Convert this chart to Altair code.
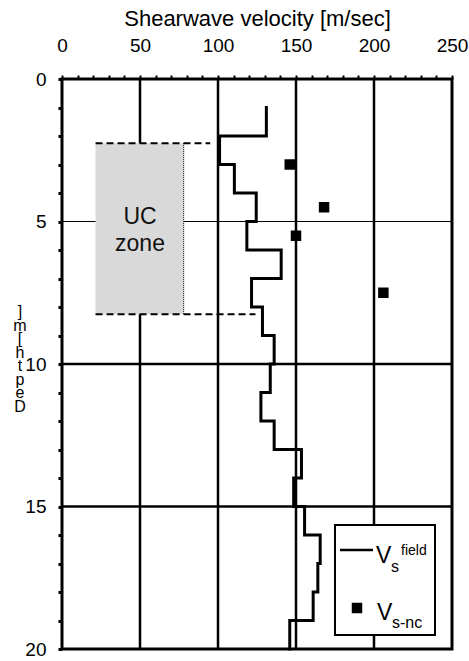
import altair as alt
import pandas as pd

# ---- data ----
layer_top = [1, 2, 3, 4, 5, 6, 7, 8, 9, 10, 11, 12, 13, 14, 15, 16, 17, 18, 19]
layer_bottom = [2, 3, 4, 5, 6, 7, 8, 9, 10, 11, 12, 13, 14, 15, 16, 17, 18, 19, 20]
vs_field = [131, 101, 110.5, 124.5, 118.5, 140.5, 121.5, 128.5, 136, 133.5,
            127.5, 136, 153.5, 148.5, 155.5, 165.5, 164, 161, 146]

nc_depth = [3.0, 4.5, 5.5, 7.5]
nc_vs = [146, 168, 150, 206]

grid_x_major = [50, 100, 150, 200]
grid_y_major = [10, 15]
grid_y_minor = [5]

uc_x = [21.5, 78]
uc_depth = [2.25, 8.25]
uc_dash_end = [95, 124]

FONT = "Liberation Sans"

# ---- tables ----
pts = []
k = 0
for t, b, v in zip(layer_top, layer_bottom, vs_field):
    pts.append({"v": v, "d": t, "o": k}); k += 1
    pts.append({"v": v, "d": b, "o": k}); k += 1
step_df = pd.DataFrame(pts)
nc_df = pd.DataFrame({"v": nc_vs, "d": nc_depth})
gx_df = pd.DataFrame({"v": grid_x_major})
gy_major_df = pd.DataFrame({"d": grid_y_major})
gy_minor_df = pd.DataFrame({"d": grid_y_minor})
uc_df = pd.DataFrame({"x1": [uc_x[0]], "x2": [uc_x[1]], "d1": [uc_depth[0]], "d2": [uc_depth[1]]})
dash_df = pd.DataFrame({"x1": [uc_x[0], uc_x[0]], "x2": uc_dash_end, "d": uc_depth})
uc_edge_df = pd.DataFrame({"x": [uc_x[1]], "d1": [uc_depth[0]], "d2": [uc_depth[1]]})
uc_text_df = pd.DataFrame({"x": [50], "d": [4.85]})

xscale = alt.Scale(domain=[0, 250], nice=False, zero=False)
yscale = alt.Scale(domain=[0, 20], nice=False, zero=False, reverse=True)

xaxis = alt.Axis(orient="top", values=list(range(0, 251, 10)),
                 labelExpr="datum.value % 50 === 0 ? datum.label : ''",
                 title="Shearwave velocity [m/sec]", titleFont=FONT, titleFontSize=22,
                 titleFontWeight="normal", titleColor="black", titlePadding=6,
                 labelFont=FONT, labelFontSize=19, labelColor="black", labelPadding=20,
                 labelFlush=False, tickSize=4, tickWidth=2, tickColor="black",
                 domain=False, grid=False)
yaxis = alt.Axis(orient="left", values=list(range(0, 21)),
                 labelExpr="datum.value % 5 === 0 ? datum.label : ''",
                 title=None, labelFont=FONT, labelFontSize=19, labelColor="black",
                 labelPadding=12, tickSize=4, tickWidth=3, tickColor="black",
                 domain=False, grid=False)


def X(field):
    return alt.X(field, type="quantitative", scale=xscale, axis=xaxis)


def Y(field):
    return alt.Y(field, type="quantitative", scale=yscale, axis=yaxis)


dummy = alt.Data(values=[{}])

grid_v = alt.Chart(gx_df).mark_rule(color="black", strokeWidth=2.5).encode(x=X("v"))
grid_h = alt.Chart(gy_major_df).mark_rule(color="black", strokeWidth=2.5).encode(y=Y("d"))
grid_h_thin = alt.Chart(gy_minor_df).mark_rule(color="black", strokeWidth=1).encode(y=Y("d"))

uc_rect = alt.Chart(uc_df).mark_rect(color="#d9d9d9").encode(
    x=X("x1"), x2="x2", y=Y("d1"), y2="d2")

uc_edge = alt.Chart(uc_edge_df).mark_rule(color="black", strokeWidth=1, strokeDash=[1, 1]).encode(
    x=X("x"), y=Y("d1"), y2="d2")
uc_dash = alt.Chart(dash_df).mark_rule(color="black", strokeWidth=2, strokeDash=[7, 4]).encode(
    x=X("x1"), x2="x2", y=Y("d"))
uc_text = alt.Chart(uc_text_df).mark_text(
    text=["UC", "zone"], font=FONT, fontSize=23, lineHeight=27, color="#111111",
    baseline="middle", align="center").encode(x=X("x"), y=Y("d"))

step = alt.Chart(step_df).mark_line(color="black", strokeWidth=3, strokeJoin="miter",
                                    strokeCap="square").encode(
    x=X("v"), y=Y("d"), order="o:Q")

squares = alt.Chart(nc_df).mark_square(color="black", size=110, opacity=1).encode(
    x=X("v"), y=Y("d"))

# ---- legend (decoration, pixel positions in plot area) ----
leg_box = alt.Chart(dummy).mark_rect(fill="white", stroke="black", strokeWidth=2).encode(
    x=alt.value(273), x2=alt.value(373), y=alt.value(446), y2=alt.value(556))
leg_line = alt.Chart(dummy).mark_rule(color="black", strokeWidth=2.5).encode(
    x=alt.value(278), x2=alt.value(311), y=alt.value(471))
leg_sq = alt.Chart(dummy).mark_square(color="black", size=110, opacity=1).encode(
    x=alt.value(295), y=alt.value(529))


def txt(s, x, y, size):
    return alt.Chart(dummy).mark_text(text=s, font=FONT, fontSize=size, color="black",
                                      align="left", baseline="alphabetic").encode(
        x=alt.value(x), y=alt.value(y))


leg_texts = [
    txt("V", 314, 484, 23), txt("s", 329, 493, 16), txt("field", 339, 476, 14),
    txt("V", 315, 541, 23), txt("s-nc", 330, 549, 16),
]

ytitle = alt.Chart(dummy).mark_text(
    text=["]", "m", "[", "h", "t", "p", "e", "D"], font=FONT, fontSize=16, lineHeight=13.5,
    color="black", align="center", baseline="bottom").encode(
    x=alt.value(-42), y=alt.value(241))

chart = alt.layer(
    grid_v, grid_h, grid_h_thin, uc_rect, uc_edge, uc_dash, uc_text,
    step, squares, leg_box, leg_line, leg_sq, *leg_texts, ytitle
).properties(
    width=390, height=570,
    padding={"left": 62, "top": 79, "right": 17, "bottom": 12},
    autosize="none", background="white"
).configure_view(stroke="black", strokeWidth=3)

chart.save("out.html", embed_options={"renderer": "svg", "actions": False})
